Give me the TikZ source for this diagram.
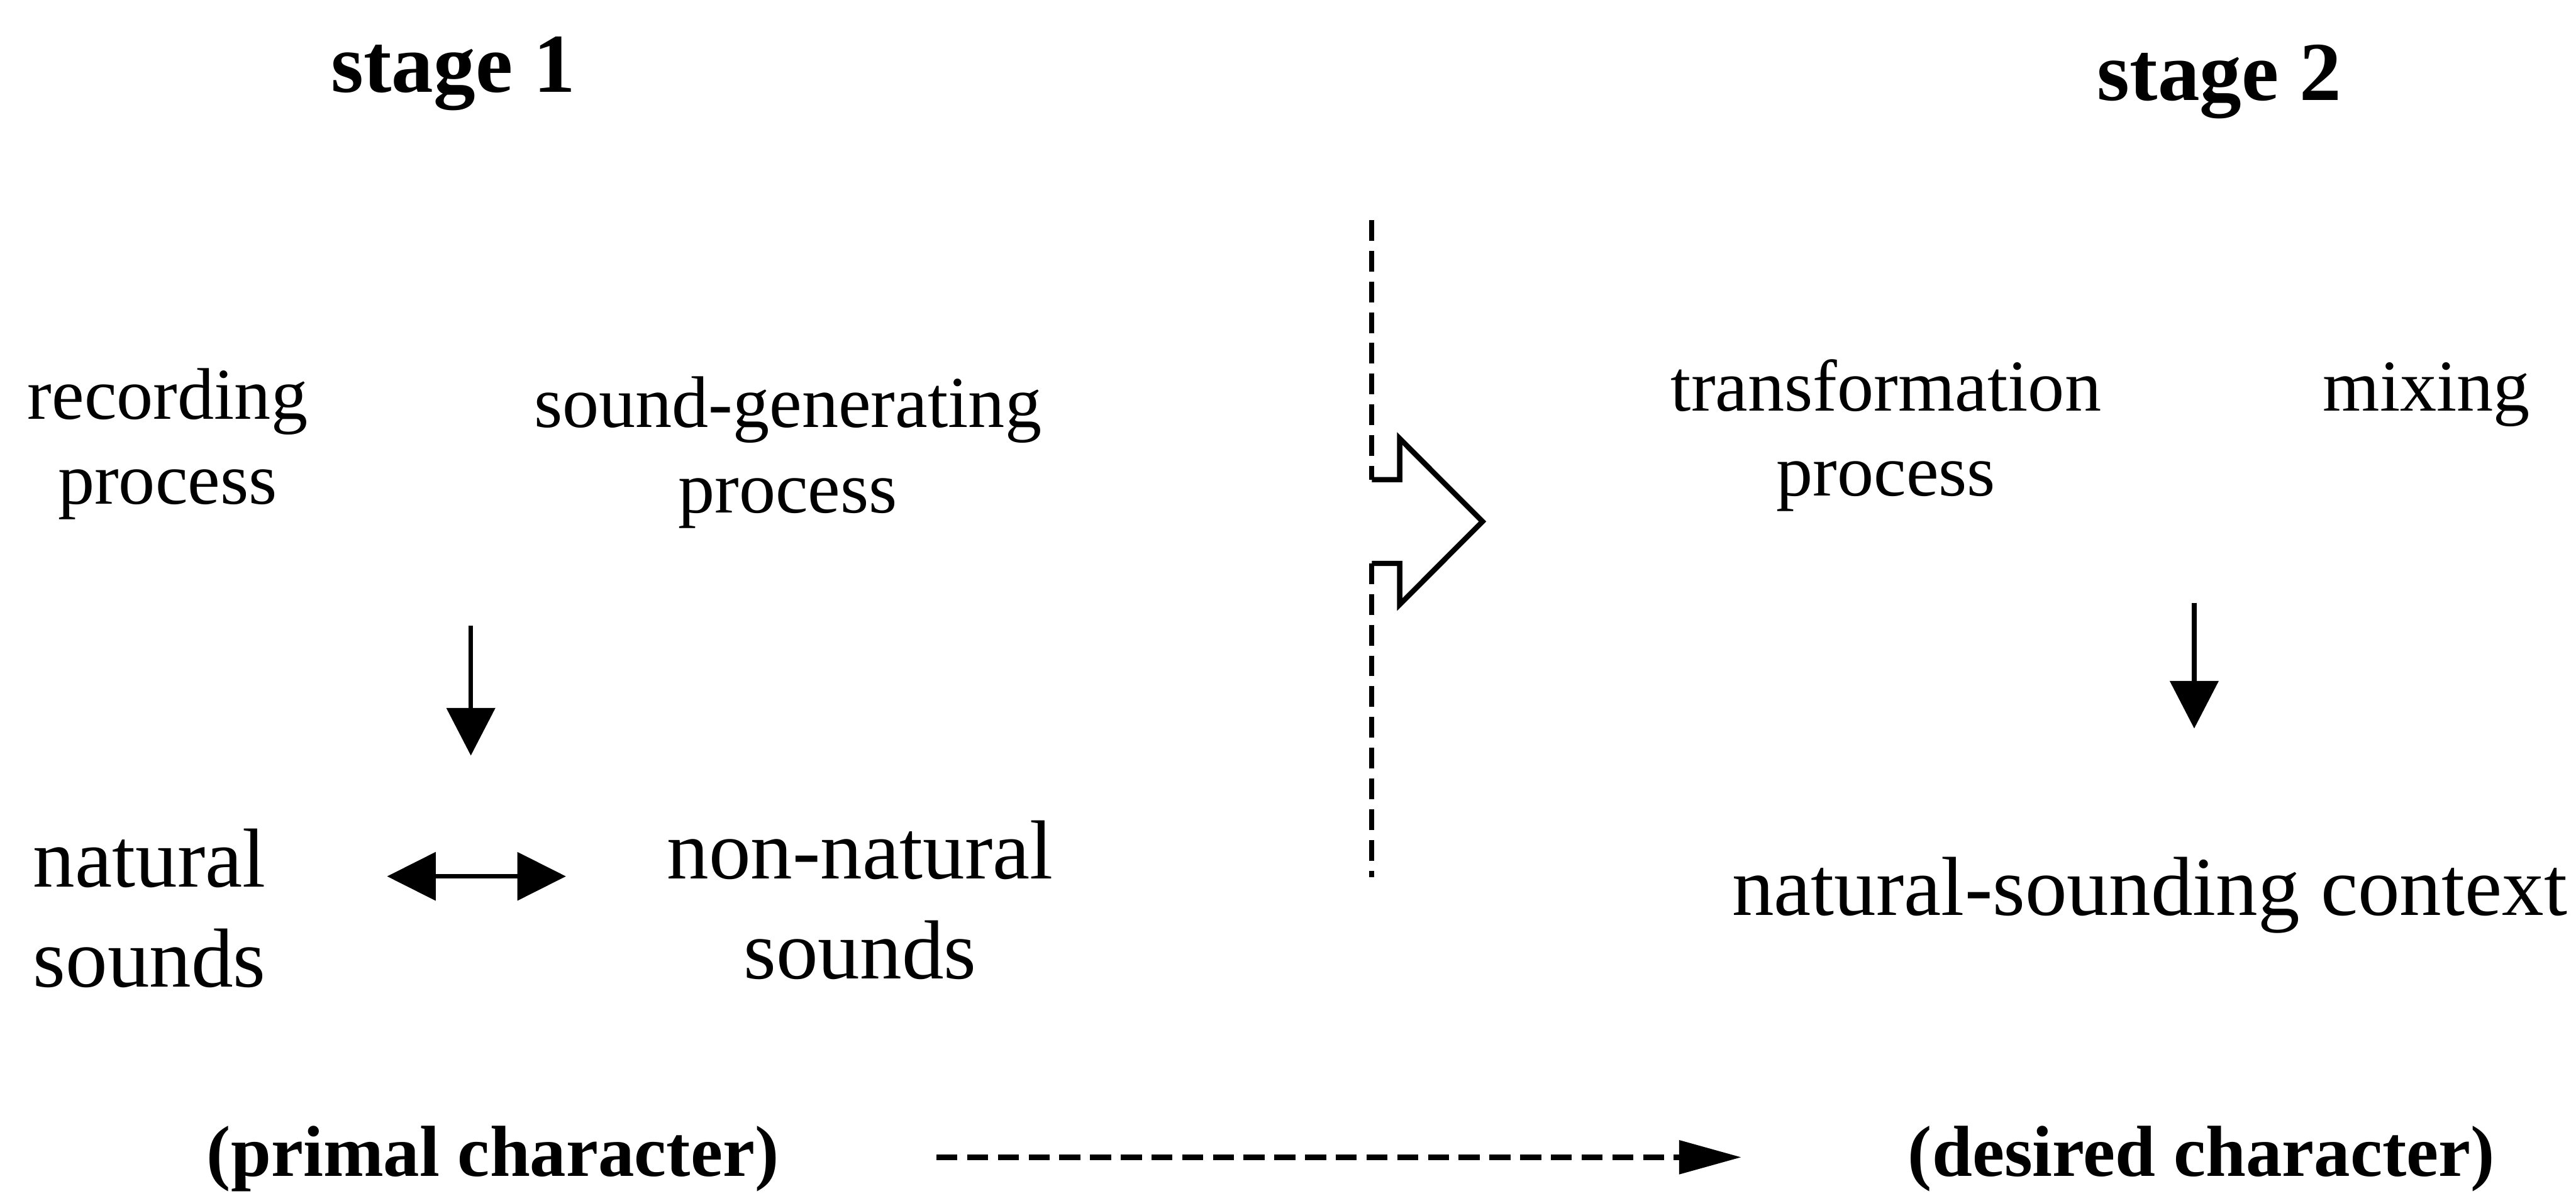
\documentclass[tikz,border=0pt]{standalone}
\usepackage{fontspec}
\setmainfont{Liberation Serif}
\usetikzlibrary{arrows.meta}
\begin{document}
\begin{tikzpicture}[x=0.5pt,y=-0.5pt,
  % multi-line nodes are placed by the baseline of their last line
  txt/.style={inner sep=0pt, outer sep=0pt, anchor=base, align=center},
  small/.style={txt, font=\fontsize{22.25}{26}\selectfont},
  large/.style={txt, font=\fontsize{25.5}{30.6}\selectfont},
  stagelbl/.style={txt, font=\fontsize{25.5}{30}\selectfont\bfseries},
  charlbl/.style={txt, font=\fontsize{22}{26}\selectfont\bfseries},
  flow/.style={line width=1.4pt, -{Triangle[length=14.5pt,width=14.6pt]}},
  twoway/.style={line width=1.4pt, {Triangle[length=14.8pt,width=14.5pt]}-{Triangle[length=14.8pt,width=14.5pt]}},
  divider/.style={line width=1.6pt, dash pattern=on 6.3pt off 3.05pt},
  outline/.style={line width=1.6pt, line join=miter},
  progress/.style={line width=1.7pt, dash pattern=on 6.4pt off 2.95pt, -{Triangle[length=19pt,width=10pt]}}
]
% page frame
\useasboundingbox (0,0) rectangle (1568,728);

% headings
\node[stagelbl] (st1) at (276,56) {stage 1};
\node[stagelbl] (st2) at (1351,61) {stage 2};

% stage 1: processes
\node[small] (rec) at (102,307) {recording\\process};
\node[small] (gen) at (479.5,312) {sound-generating\\process};

% stage 1: sound types
\node[large] (nat) at (91,601) {natural\\sounds};
\node[large] (nonnat) at (523.5,596) {non-natural\\sounds};

% stage 2
\node[small] (trans) at (1148,302) {transformation\\process};
\node[small] (mix) at (1477,250) {mixing};
\node[large] (ctx) at (1308.5,557) {natural-sounding context};

% bottom line
\node[charlbl] (primal) at (300,716) {(primal character)};
\node[charlbl] (desired) at (1340,716) {(desired character)};

% arrow end points
\coordinate (d1s) at (286.6,381);
\coordinate (d1e) at (286.6,460);
\coordinate (hl) at (235.6,533.5);
\coordinate (hr) at (344.5,533.5);
\coordinate (d2s) at (1335.6,367);
\coordinate (d2e) at (1335.6,443.5);
\coordinate (ps) at (570,704.5);
\coordinate (pe) at (1060,704.5);

\draw[flow] (d1s) -- (d1e);
\draw[twoway] (hl) -- (hr);
\draw[flow] (d2s) -- (d2e);
\draw[progress] (ps) -- (pe);

% dividing line with the block arrow passing through it
\coordinate (vtop) at (835,134);
\coordinate (vbot) at (835,534);
\coordinate (a1) at (835,292);
\coordinate (a2) at (852,292);
\coordinate (a3) at (852,267);
\coordinate (tip) at (902.4,317.5);
\coordinate (a5) at (852,368);
\coordinate (a6) at (852,343);
\coordinate (a7) at (835,343);

\draw[divider] (vtop) -- (a1);
\draw[divider] (a7) -- (vbot);
\draw[outline] (a1) -- (a2) -- (a3) -- (tip) -- (a5) -- (a6) -- (a7);
\end{tikzpicture}
\end{document}
